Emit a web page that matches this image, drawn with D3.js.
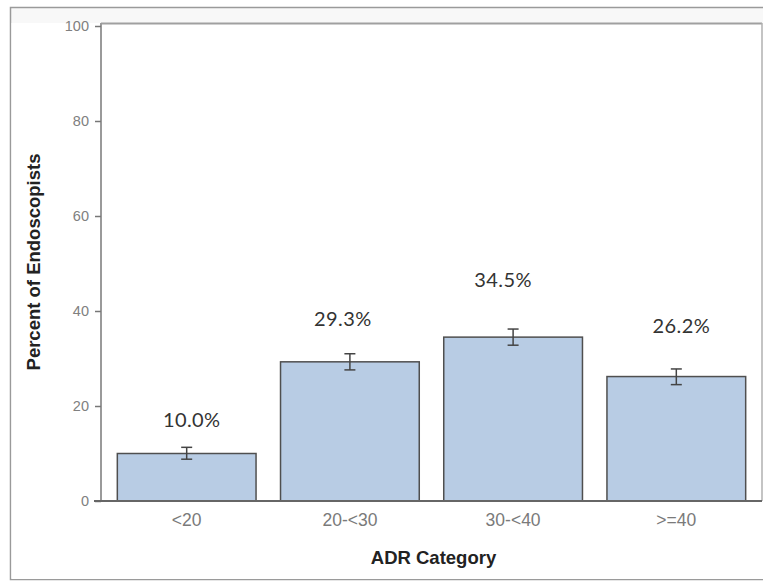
<!DOCTYPE html>
<html><head><meta charset="utf-8">
<script src="https://cdn.jsdelivr.net/npm/d3@7"></script>
<style>html,body{margin:0;padding:0;background:#fff;}svg{display:block;}</style>
</head><body>
<script>
const categories = ["<20", "20-<30", "30-<40", ">=40"];
const values = [10.0, 29.3, 34.5, 26.2];
const lowerCI = [8.8, 27.6, 32.8, 24.5];
const upperCI = [11.3, 31.0, 36.2, 27.8];
const valueLabels = ["10.0%", "29.3%", "34.5%", "26.2%"];
const yTicks = [0, 20, 40, 60, 80, 100];

// layout settings (pixels above bar top for each annotation)
const labelLift = [32, 41, 55, 49];
const labelShift = [5, -7, -10, 5];

const W = 763, H = 581;
const svg = d3.select("body").append("svg").attr("width", W).attr("height", H);

// outer frame
svg.append("rect").attr("x", 10.5).attr("y", 7.5).attr("width", W + 5).attr("height", 572)
  .attr("fill", "#f8f8f8").attr("stroke", "#9a9a9a").attr("stroke-width", 1.5);

const mLeft = 101, mRight = 762, mTop = 23, mBottom = 501;
svg.append("rect").attr("x", 11.5).attr("y", mTop).attr("width", W).attr("height", H - mTop - 2)
  .attr("fill", "#fff");

const x = d3.scaleBand().domain(categories).range([mLeft, mRight]).paddingInner(0.15).paddingOuter(0.1);
const y = d3.scaleLinear().domain([0, 100]).range([mBottom, 26]);

// plot frame
svg.append("line").attr("x1", mLeft).attr("x2", mRight).attr("y1", mTop + 0.5).attr("y2", mTop + 0.5)
  .attr("stroke", "#a0a0a0").attr("stroke-width", 2);
svg.append("line").attr("x1", mRight).attr("x2", mRight).attr("y1", mTop).attr("y2", mBottom)
  .attr("stroke", "#b0b0b0").attr("stroke-width", 1.5);

const data = categories.map((c, i) => ({c, v: values[i], lo: lowerCI[i], hi: upperCI[i], lab: valueLabels[i], i}));

// bars
svg.append("g").selectAll("rect").data(data).join("rect")
  .attr("x", d => x(d.c)).attr("width", x.bandwidth())
  .attr("y", d => y(d.v)).attr("height", d => y(0) - y(d.v))
  .attr("fill", "#b8cce4").attr("stroke", "#4f4f4f").attr("stroke-width", 1.5);

// error bars
const eb = svg.append("g").attr("stroke", "#444").attr("stroke-width", 1.5);
data.forEach(d => {
  const cx = x(d.c) + x.bandwidth() / 2;
  eb.append("line").attr("x1", cx).attr("x2", cx).attr("y1", y(d.hi)).attr("y2", y(d.lo));
  eb.append("line").attr("x1", cx - 5.5).attr("x2", cx + 5.5).attr("y1", y(d.hi)).attr("y2", y(d.hi));
  eb.append("line").attr("x1", cx - 5.5).attr("x2", cx + 5.5).attr("y1", y(d.lo)).attr("y2", y(d.lo));
});

// value labels
svg.append("g").selectAll("text").data(data).join("text")
  .attr("x", d => x(d.c) + x.bandwidth() / 2 + labelShift[d.i])
  .attr("y", d => y(d.v) - labelLift[d.i])
  .attr("text-anchor", "middle").attr("dominant-baseline", "middle")
  .attr("font-family", "Lato, 'Open Sans', sans-serif").attr("font-size", 20)
  .attr("letter-spacing", 0.4)
  .attr("fill", "#333").text(d => d.lab);

// y axis
const yAxis = svg.append("g").attr("transform", `translate(${mLeft},0)`)
  .call(d3.axisLeft(y).tickValues(yTicks).tickSize(6).tickPadding(6));
yAxis.select(".domain").attr("stroke", "#9a9a9a").attr("stroke-width", 2)
  .attr("d", `M0,${mTop}V${mBottom}`);
yAxis.selectAll(".tick line").attr("stroke", "#777").attr("stroke-width", 1.5);
yAxis.selectAll(".tick text").attr("fill", "#808080").attr("font-size", 14.5)
  .attr("font-family", "'Liberation Sans', Arial, sans-serif");

// x axis
const xAxis = svg.append("g").attr("transform", `translate(0,${mBottom})`)
  .call(d3.axisBottom(x).tickSize(0).tickPadding(13));
xAxis.select(".domain").attr("stroke", "#666").attr("stroke-width", 2)
  .attr("d", `M${mLeft - 7},0H${mRight}`);
xAxis.selectAll(".tick text").attr("fill", "#7a7a7a").attr("font-size", 17.5)
  .attr("font-family", "'Liberation Sans', Arial, sans-serif");

// axis titles
svg.append("text").attr("x", (mLeft + mRight) / 2 + 2).attr("y", 559)
  .attr("text-anchor", "middle").attr("dominant-baseline", "middle")
  .attr("font-family", "'Liberation Sans', Arial, sans-serif").attr("font-weight", "bold")
  .attr("font-size", 18.5).attr("fill", "#222").text("ADR Category");

svg.append("text").attr("transform", `translate(35,${(mTop + mBottom) / 2}) rotate(-90)`)
  .attr("text-anchor", "middle").attr("dominant-baseline", "middle")
  .attr("font-family", "'Liberation Sans', Arial, sans-serif").attr("font-weight", "bold")
  .attr("font-size", 18.5).attr("fill", "#222").text("Percent of Endoscopists");
</script>
</body></html>
